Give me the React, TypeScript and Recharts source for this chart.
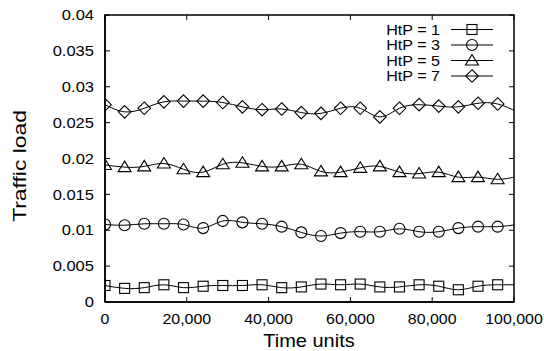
import React from "react";
import { LineChart, Line, XAxis, YAxis, ReferenceArea, Legend } from "recharts";

// sample times (last one sits just past the axis end and gets clipped)
const timeUnits = [
  0, 4800, 9600, 14400, 19200, 24000, 28800, 33600, 38400, 43200, 48000,
  52800, 57600, 62400, 67200, 72000, 76800, 81600, 86400, 91200, 96000, 100800,
];

const htp1 = [
  0.0023, 0.0019, 0.002, 0.0024, 0.002, 0.0022, 0.0023, 0.0023, 0.0024, 0.002, 0.0021,
  0.0025, 0.0024, 0.0025, 0.0021, 0.0021, 0.0024, 0.0022, 0.0017, 0.0022, 0.0024, 0.0024,
];
const htp3 = [
  0.0108, 0.0107, 0.0109, 0.0109, 0.0108, 0.0103, 0.0113, 0.0111, 0.0109, 0.0105, 0.0097,
  0.0092, 0.0096, 0.0098, 0.0098, 0.0102, 0.0098, 0.0098, 0.0103, 0.0105, 0.0105, 0.0108,
];
const htp5 = [
  0.0191, 0.0188, 0.0189, 0.0193, 0.0185, 0.0181, 0.0192, 0.0194, 0.0189, 0.0189, 0.0192,
  0.0182, 0.0181, 0.0187, 0.0189, 0.0181, 0.0179, 0.0181, 0.0174, 0.0174, 0.0171, 0.0175,
];
const htp7 = [
  0.0275, 0.0265, 0.027, 0.0279, 0.028, 0.028, 0.0278, 0.0272, 0.0268, 0.0269, 0.0264,
  0.0263, 0.027, 0.027, 0.0258, 0.027, 0.0275, 0.0273, 0.0272, 0.0277, 0.0276, 0.0265,
];

const xTicks = [0, 20000, 40000, 60000, 80000, 100000];
const yTicks = [0, 0.005, 0.01, 0.015, 0.02, 0.025, 0.03, 0.035, 0.04];
const X_MAX = 100000;

const series = [
  { key: "htp1", name: "HtP = 1", shape: "square" },
  { key: "htp3", name: "HtP = 3", shape: "circle" },
  { key: "htp5", name: "HtP = 5", shape: "triangle" },
  { key: "htp7", name: "HtP = 7", shape: "diamond" },
];

const data = timeUnits.map((t, i) => ({
  time: t,
  htp1: htp1[i],
  htp3: htp3[i],
  htp5: htp5[i],
  htp7: htp7[i],
}));

const FONT = "'Liberation Sans', Arial, sans-serif";
const W = 544;
const H = 351;
const margin = { top: 15, right: 30, bottom: 19, left: 45 };
const PLOT_LEFT = 105;
const PLOT_RIGHT = W - margin.right;
const PLOT_TOP = margin.top;
const PLOT_BOTTOM = 302;
const TICK = 5;

// gnuplot's text comes out a bit wider than Liberation Sans, so stretch it
const SText = ({ x, y, size, sx = 1.12, rotate = 0, anchor = "middle", dy = "0", children }: any) => (
  <text
    transform={`translate(${x},${y}) rotate(${rotate}) scale(${sx},1)`}
    dy={dy}
    textAnchor={anchor}
    fontSize={size}
    fontFamily={FONT}
    fill="#000"
  >
    {children}
  </text>
);

const Marker = ({ cx, cy, shape }: any) => {
  const p = { fill: "none", stroke: "#000", strokeWidth: 1.1 };
  if (shape === "square") return <rect x={cx - 5} y={cy - 5} width={10} height={10} {...p} />;
  if (shape === "circle") return <circle cx={cx} cy={cy} r={5.5} {...p} />;
  if (shape === "triangle")
    return <polygon points={`${cx},${cy - 6} ${cx - 6.5},${cy + 4.5} ${cx + 6.5},${cy + 4.5}`} {...p} />;
  return <polygon points={`${cx},${cy - 6.3} ${cx + 6.3},${cy} ${cx},${cy + 6.3} ${cx - 6.3},${cy}`} {...p} />;
};

const dotFor = (shape: string) => (props: any) => {
  const { cx, cy, index, payload } = props;
  if (payload.time > X_MAX) return <g key={`${shape}-${index}`} />;
  return <Marker key={`${shape}-${index}`} cx={cx} cy={cy} shape={shape} />;
};

const fmtX = (v: number) => v.toLocaleString("en-US");
const fmtY = (v: number) => String(parseFloat(v.toFixed(3)));

const XTick = ({ x, payload }: any) => (
  <g>
    <line x1={x} x2={x} y1={PLOT_BOTTOM} y2={PLOT_BOTTOM - TICK} stroke="#000" />
    <line x1={x} x2={x} y1={PLOT_TOP} y2={PLOT_TOP + TICK} stroke="#000" />
    <SText x={x} y={324} size={14.5} sx={1.1}>
      {fmtX(payload.value)}
    </SText>
  </g>
);

const YTick = ({ y, payload }: any) => (
  <g>
    <line x1={PLOT_LEFT} x2={PLOT_LEFT + TICK} y1={y} y2={y} stroke="#000" />
    <line x1={PLOT_RIGHT} x2={PLOT_RIGHT - TICK} y1={y} y2={y} stroke="#000" />
    <SText x={94} y={y} dy="0.36em" size={14.5} sx={1.14} anchor="end">
      {fmtY(payload.value)}
    </SText>
  </g>
);

const TimeTitle = () => (
  <SText x={309} y={347} size={18} sx={1.11}>
    Time units
  </SText>
);

const LoadTitle = () => (
  <SText x={26} y={166} size={18} sx={1.27} rotate={-90}>
    Traffic load
  </SText>
);

const LegendBox = () => (
  <svg width={W} height={90} style={{ display: "block" }}>
    {series.map((s, i) => {
      const y = 29.5 + i * 15.5;
      return (
        <g key={s.key}>
          <SText x={440} y={y} dy="0.36em" size={14.5} sx={1.11} anchor="end">
            {s.name}
          </SText>
          <line x1={451} x2={493} y1={y} y2={y} stroke="#000" />
          <Marker cx={472} cy={y} shape={s.shape} />
        </g>
      );
    })}
  </svg>
);

export default function App() {
  return (
    <div style={{ position: "absolute", left: 0, top: 0, background: "#fff" }}>
      <LineChart width={W} height={H} data={data} margin={margin}>
        <XAxis
          dataKey="time"
          type="number"
          domain={[0, X_MAX]}
          ticks={xTicks}
          allowDataOverflow
          tickLine={false}
          axisLine={{ stroke: "#000", strokeWidth: 1.5 }}
          height={30}
          tick={<XTick />}
          label={<TimeTitle />}
        />
        <YAxis
          type="number"
          domain={[0, 0.04]}
          ticks={yTicks}
          allowDataOverflow
          tickLine={false}
          axisLine={{ stroke: "#000", strokeWidth: 1.5 }}
          width={60}
          tick={<YTick />}
          label={<LoadTitle />}
        />
        <ReferenceArea
          x1={0}
          x2={X_MAX}
          y1={0}
          y2={0.04}
          fill="none"
          stroke="#000"
          strokeWidth={1.5}
          fillOpacity={0}
        />
        <Legend
          layout="vertical"
          align="center"
          verticalAlign="middle"
          wrapperStyle={{ position: "absolute", left: 0, top: 0, width: W }}
          content={() => <LegendBox />}
        />
        {series.map((s) => (
          <Line
            key={s.key}
            dataKey={s.key}
            name={s.name}
            type="natural"
            stroke="#000"
            strokeWidth={1}
            dot={dotFor(s.shape)}
            activeDot={false}
            isAnimationActive={false}
          />
        ))}
      </LineChart>
    </div>
  );
}
